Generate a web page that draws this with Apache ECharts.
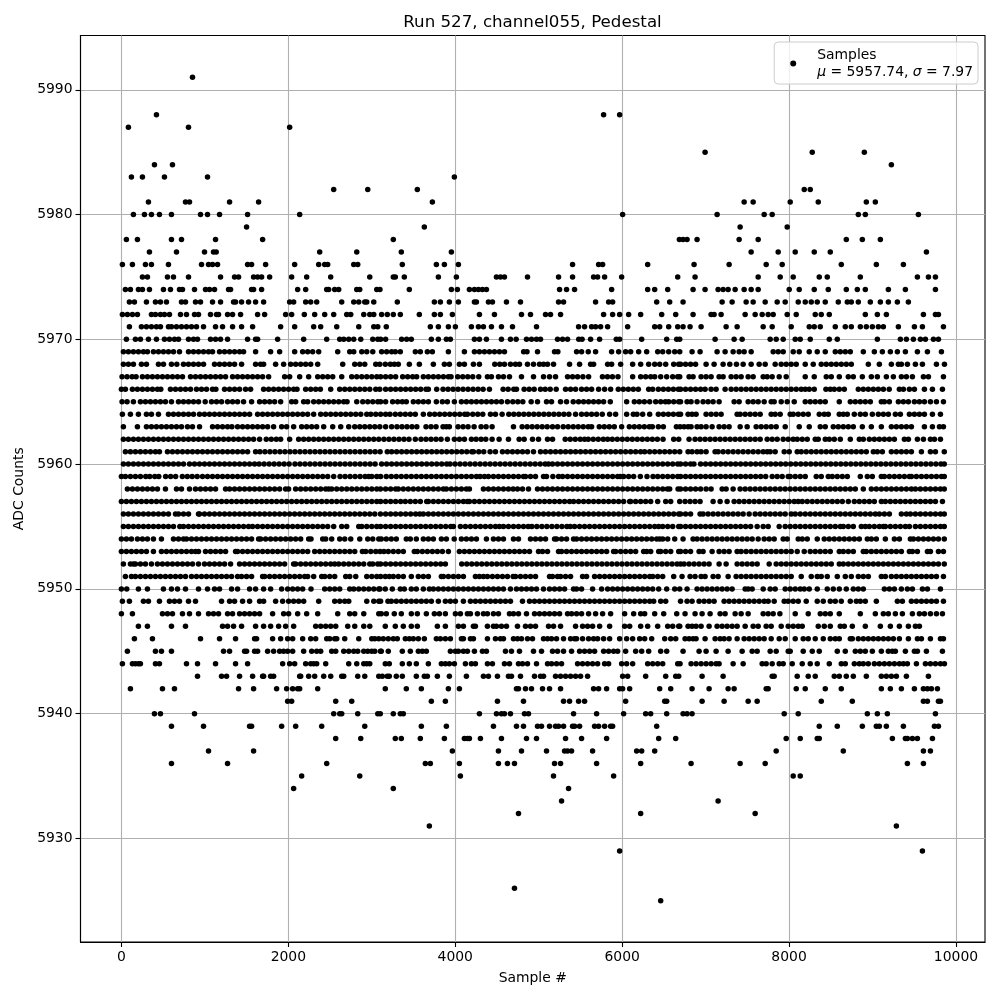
<!DOCTYPE html>
<html><head><meta charset="utf-8">
<style>html,body{margin:0;padding:0;background:#fff}#c{width:1000px;height:1000px}</style>
<script src="https://cdn.jsdelivr.net/npm/echarts@6/dist/echarts.min.js"></script>
</head><body><div id="c"></div>
<script>
const xTicks=[0,2000,4000,6000,8000,10000];
const yTicks=[5930,5940,5950,5960,5970,5980,5990];
const L5991=[852];
const L5988=[420,5778,5970];
const L5987=[84,804,2016];
const L5985=[6994,8278,8902];
const L5984=[396,612,9226];
const L5983=[120,252,516,1032,3990];
const L5982=[2544,2952,3546,8182,8254];
const L5981=[324,768,816,1296,1644,3726,7462,7570,8014,8350,8926,9034];
const L5980=[144,276,360,456,600,948,1032,1176,1512,2136,6006,7138,7702,7798,8830,8914,9550];
const L5979=[1500,3630,7414,7978];
const L5978=[60,192,600,720,1128,1692,3258,6686,6730,6778,6898,7402,7630,8686,8878,9094];
const L5977=[336,660,996,1104,1136,2376,2820,3354,3954,7546,7870,8074,8302,8494,9646];
const L5976=[12,132,288,360,564,960,1044,1092,1152,1512,1560,1728,2076,2364,2436,2472,2784,2832,3366,3774,3870,4038,5406,5718,5766,6306,6862,7282,7726,7918,8626,9046,9370];
const L5975=[252,312,552,624,804,1188,1356,1404,1584,1632,1680,1776,2040,2220,2508,2976,3258,3282,3390,3798,4014,4494,4542,4590,4866,5238,5406,5658,5706,5790,5994,6666,6874,7630,7894,8050,8362,8458,8854,9538,9670,9754];
const L5974=[48,108,204,252,336,504,588,696,732,876,1008,1056,1116,1284,1308,1560,1584,1680,2112,2208,2460,2484,2556,2604,2820,2856,3060,3098,3450,3954,4026,4170,4230,4278,4326,4374,5250,5334,5430,5874,6306,6390,6546,6850,6994,7150,7210,7270,7354,7462,7546,7630,8002,8122,8302,8470,8686,8818,8914,9190,9394,9754];
const L5973=[96,156,300,408,468,540,720,768,888,948,1092,1188,1344,1368,1440,1524,1608,1704,2016,2064,2208,2268,2340,2640,2784,2844,2916,2940,3024,3306,3750,3822,3930,4038,4230,4254,4398,4446,4614,4782,5238,5298,5682,5838,5886,6414,6570,6730,7198,7318,7486,7570,7714,7858,7954,8110,8194,8266,8338,8434,8590,8698,8746,8830,8974,9094,9190,9298,9430];
const L5972=[12,72,132,192,360,408,468,516,576,708,780,876,924,1068,1140,1164,1272,1332,1428,1632,1716,1968,2040,2192,2316,2436,2544,2700,2748,2904,2976,3024,3118,3186,3258,3342,3570,3750,3822,3966,4290,4470,4794,4902,5082,5142,5262,5778,5886,5970,6078,6222,6474,6642,6850,7066,7102,7186,7474,7594,7678,7750,7810,7978,8086,8314,8386,8482,8914,9058,9166,9610,9754,9790];
const L5971=[96,240,300,360,420,468,564,600,660,720,780,840,900,984,1128,1212,1332,1440,1572,1908,2076,2304,2388,2580,2844,3024,3072,3174,3702,3798,3918,4002,4194,4278,4338,4434,4554,4686,4974,5478,5550,5634,5682,5742,5826,6066,6390,6450,6558,6666,6730,6814,6946,7246,7378,7690,7798,8026,8242,8302,8374,8554,8674,8746,8854,8926,8998,9070,9130,9310,9502,9598,9850];
const L5970=[60,168,228,324,420,516,576,636,684,804,864,912,1068,1128,1188,1272,1512,1608,1632,1872,2184,2460,2616,2664,2724,2784,2868,3012,3072,3106,3166,3358,3418,3474,3714,3798,3894,3942,4230,4290,4374,4554,4662,4730,4854,4914,4974,5022,5226,5286,5346,5480,5520,5622,5730,5930,5970,6234,6534,6654,6690,7114,7342,7438,7774,7846,7930,8074,8134,8254,8482,8578,9058,9334,9406,9490,9574,9634,9730,9790];
const L5969=[24,84,144,204,264,312,384,444,504,564,624,696,804,864,924,984,1044,1092,1176,1236,1296,1356,1416,1464,1608,1788,1896,2076,2172,2232,2292,2364,2592,2736,2784,2880,2940,3012,3118,3178,3238,3282,3342,3522,3582,3666,3726,3918,4110,4230,4290,4350,4410,4470,4530,4590,4820,4860,4986,5190,5230,5454,5514,5594,5682,5874,5958,6042,6102,6198,6294,6426,6486,6558,6630,6690,6838,6934,7138,7234,7330,7402,7462,7546,7810,7870,7930,8050,8122,8242,8338,8434,8554,8614,8674,8734,8890,9022,9118,9214,9298,9394,9538,9658,9826];
const L5968=[24,84,144,240,300,444,504,600,664,744,804,864,924,984,1116,1176,1236,1296,1356,1440,1608,1668,1704,1848,1944,2028,2088,2148,2208,2268,2352,2652,2796,2856,2916,3048,3096,3162,3222,3270,3318,3450,3570,3738,3870,3930,4050,4110,4218,4290,4474,4534,4590,4662,4722,4770,4866,4938,5010,5058,5106,5178,5370,5490,5622,5658,5826,5874,5982,6126,6222,6318,6390,6450,6522,6618,6678,6700,6760,6820,6880,7006,7102,7210,7290,7370,7450,7546,7642,7714,7834,7906,7966,8026,8086,8194,8290,8386,8446,8506,8566,8626,8686,8746,8950,9082,9226,9310,9346,9418,9514,9598,9766,9862];
const L5967=[8,68,128,176,252,312,372,432,492,552,612,672,732,828,888,948,1008,1068,1128,1188,1248,1332,1392,1452,1512,1572,1632,1692,1764,1956,2016,2136,2244,2352,2412,2472,2532,2640,2760,2820,2880,2940,3000,3060,3106,3166,3226,3286,3370,3430,3490,3538,3618,3678,3738,3798,3858,3918,3950,4030,4090,4150,4210,4282,4386,4434,4518,4578,4650,4794,4938,5058,5130,5202,5346,5406,5466,5530,5598,5764,5824,5884,5950,6126,6222,6282,6342,6390,6462,6534,6606,6666,6690,6802,6850,6946,7006,7066,7162,7210,7306,7366,7426,7510,7570,7690,7738,7798,7882,7966,8194,8302,8446,8506,8602,8710,8770,8878,8986,9058,9166,9250,9346,9406,9478,9610,9670,9850];
const L5966=[0,48,132,192,252,312,372,432,472,588,648,708,768,828,900,960,1020,1092,1132,1236,1296,1356,1416,1488,1548,1704,1764,1824,1884,1944,2004,2064,2104,2208,2268,2328,2384,2508,2616,2676,2736,2796,2856,2916,2976,3048,3096,3166,3226,3286,3346,3406,3466,3526,3586,3650,3678,3778,3854,3914,3974,4034,4094,4154,4214,4274,4334,4410,4574,4634,4702,4734,4826,4886,4946,5022,5078,5138,5210,5322,5382,5442,5514,5574,5634,5718,5790,5862,5954,6014,6074,6134,6194,6318,6366,6434,6494,6554,6614,6674,6700,6760,6820,6880,6940,6994,7066,7126,7234,7306,7366,7426,7486,7546,7606,7666,7726,7786,7846,7906,7966,8026,8086,8146,8194,8242,8302,8442,8494,8542,8602,8662,8830,8890,8950,9010,9070,9130,9200,9322,9370,9442,9502,9622,9718,9838];
const L5965=[8,68,144,228,288,348,408,468,528,600,684,744,804,864,924,1004,1080,1140,1200,1272,1332,1392,1464,1560,1656,1716,1776,1836,1908,2040,2088,2184,2232,2304,2364,2424,2484,2544,2604,2664,2704,2820,2892,2952,3012,3072,3106,3166,3250,3310,3366,3414,3498,3558,3618,3678,3774,3846,3906,3990,4074,4134,4194,4254,4314,4374,4434,4494,4554,4626,4690,4750,4810,4910,4986,5094,5154,5262,5334,5414,5478,5538,5598,5658,5718,5778,5858,6054,6146,6206,6266,6330,6402,6462,6518,6558,6618,6678,6700,6778,6826,6898,6970,7030,7090,7162,7342,7402,7510,7570,7630,7702,7786,7822,7906,7978,8062,8194,8254,8314,8374,8434,8602,8734,8794,8854,8914,8974,9106,9142,9202,9310,9370,9430,9502,9562,9622,9694,9766,9850];
const L5964=[12,108,204,300,360,444,564,624,684,744,804,864,936,996,1056,1116,1176,1236,1296,1356,1416,1476,1536,1632,1692,1752,1812,1872,1932,1992,2052,2112,2172,2232,2304,2388,2448,2508,2568,2628,2688,2748,2808,2868,2940,2988,3048,3106,3166,3218,3282,3342,3402,3462,3522,3618,3694,3754,3814,3874,3934,3994,4054,4114,4146,4210,4270,4330,4422,4482,4562,4642,4702,4762,4822,4882,4942,5002,5062,5122,5182,5242,5302,5362,5442,5514,5574,5634,5694,5762,5850,5922,6054,6134,6178,6246,6330,6434,6494,6554,6614,6674,6700,6790,6838,6886,7006,7066,7126,7186,7378,7414,7474,7534,7594,7654,7786,7834,7894,8014,8050,8110,8170,8230,8362,8422,8470,8602,8650,8698,8782,8854,8914,8998,9070,9130,9190,9274,9334,9442,9502,9562,9622,9718,9814];
const L5963=[24,192,300,360,420,480,540,600,660,720,792,852,936,1092,1152,1212,1272,1324,1392,1452,1512,1572,1632,1692,1752,1824,1920,1980,2064,2160,2220,2280,2340,2424,2532,2628,2724,2796,2856,2916,2976,3036,3096,3166,3238,3302,3362,3422,3482,3540,3650,3710,3770,3854,3894,3930,4034,4094,4154,4226,4310,4370,4442,4698,4802,4862,4922,4982,5042,5102,5166,5226,5294,5354,5414,5474,5534,5594,5634,5726,5786,5846,5906,5994,6086,6146,6206,6266,6326,6362,6434,6494,6650,6694,6742,6790,6826,6898,6946,7006,7078,7162,7222,7282,7414,7498,7606,7666,7726,7786,7846,7954,8122,8242,8374,8434,8530,8590,8650,8710,8770,8878,8986,9106,9226,9286,9346,9406,9466,9622,9718,9802,9850];
const L5962=[24,84,144,204,264,324,384,444,504,564,624,684,744,804,864,924,984,1044,1104,1164,1224,1284,1344,1404,1464,1524,1584,1656,1736,1796,1856,1908,2016,2124,2184,2244,2304,2364,2424,2484,2544,2604,2664,2724,2784,2844,2904,2964,3024,3084,3146,3206,3266,3326,3386,3446,3522,3590,3650,3710,3770,3830,3906,3990,4050,4110,4194,4250,4310,4366,4442,4526,4638,4766,4826,4926,4998,5106,5166,5318,5378,5438,5498,5550,5594,5654,5714,5774,5826,5882,5942,6002,6062,6122,6182,6242,6302,6362,6422,6490,6618,6678,6802,6874,6934,6994,7054,7114,7174,7234,7294,7354,7414,7474,7534,7594,7654,7738,7798,7858,7930,7990,8050,8098,8158,8218,8314,8350,8434,8482,8542,8614,8734,8842,8890,8962,9022,9082,9142,9202,9262,9382,9430,9538,9610,9694,9742,9814];
const L5961=[48,108,168,228,288,348,408,456,552,612,672,732,792,852,912,972,1032,1092,1152,1212,1272,1332,1392,1452,1512,1608,1660,1720,1780,1840,1900,1960,2020,2080,2140,2200,2260,2320,2380,2440,2500,2560,2620,2680,2740,2800,2860,2920,2980,3040,3100,3186,3238,3298,3358,3418,3478,3538,3598,3658,3718,3778,3838,3898,3958,4018,4078,4138,4198,4218,4282,4342,4418,4482,4566,4626,4686,4746,4806,4866,4938,5022,5082,5142,5202,5262,5322,5382,5442,5502,5562,5622,5682,5742,5802,5862,5922,5982,6042,6102,6162,6222,6270,6330,6390,6450,6510,6570,6630,6690,6790,6838,6898,6946,7006,7114,7150,7210,7270,7330,7390,7450,7510,7570,7630,7690,7738,7774,7834,7942,8002,8098,8146,8206,8266,8326,8386,8446,8506,8566,8626,8686,8746,8806,8866,8926,9010,9058,9118,9226,9286,9346,9406,9466,9586,9694,9754,9860];
const L5960=[24,84,144,204,264,324,384,444,504,564,624,684,744,816,876,936,996,1056,1116,1176,1236,1296,1356,1416,1476,1536,1596,1650,1710,1770,1830,1890,1950,2010,2080,2140,2200,2260,2320,2380,2440,2500,2560,2620,2680,2740,2800,2860,2920,2980,3040,3118,3178,3238,3298,3358,3418,3478,3538,3598,3658,3718,3778,3838,3898,3938,3998,4058,4118,4178,4238,4298,4358,4418,4478,4538,4598,4658,4718,4778,4838,4898,4958,5018,5078,5118,5166,5226,5286,5346,5406,5466,5526,5586,5646,5706,5766,5826,5886,5946,6006,6066,6126,6186,6246,6306,6366,6426,6486,6546,6606,6666,6700,6760,6820,6860,6940,7000,7060,7120,7180,7240,7300,7360,7420,7480,7540,7600,7660,7720,7780,7840,7900,7960,8020,8080,8140,8200,8260,8320,8380,8440,8500,8560,8620,8680,8740,8800,8860,8920,8980,9040,9100,9160,9220,9280,9340,9400,9460,9520,9580,9640,9700,9760,9820,9860];
const L5959=[0,48,108,168,228,292,340,400,448,530,590,650,730,790,848,908,972,1032,1092,1152,1212,1272,1332,1392,1452,1512,1572,1632,1692,1752,1812,1872,1932,1992,2052,2112,2172,2232,2292,2352,2412,2472,2544,2620,2680,2740,2800,2860,2920,2964,3000,3060,3106,3174,3234,3294,3354,3414,3474,3534,3594,3654,3714,3774,3834,3894,3954,4014,4074,4134,4194,4254,4298,4350,4398,4458,4518,4578,4638,4698,4758,4818,4842,4902,4962,5058,5094,5170,5238,5286,5346,5406,5466,5526,5586,5646,5706,5766,5826,5886,5946,5978,6018,6078,6138,6218,6298,6370,6426,6486,6546,6606,6666,6700,6760,6820,6880,6940,7000,7060,7120,7180,7240,7300,7360,7420,7480,7540,7600,7660,7720,7798,7858,7918,7990,8014,8074,8134,8194,8326,8386,8470,8518,8578,8638,8698,8854,8938,8998,9106,9142,9202,9262,9322,9382,9442,9466,9526,9586,9646,9706,9766,9826,9860];
const L5958=[72,132,192,252,312,372,432,528,660,720,816,888,948,1008,1068,1128,1248,1296,1356,1416,1476,1536,1596,1656,1716,1776,1836,1896,1968,2004,2088,2148,2208,2268,2328,2388,2448,2484,2520,2580,2640,2700,2760,2820,2880,2940,3000,3060,3104,3166,3226,3286,3318,3378,3438,3498,3558,3618,3678,3738,3798,3858,3894,3954,4014,4074,4134,4170,4338,4398,4458,4518,4578,4638,4694,4746,4806,4878,4986,5046,5106,5166,5226,5286,5346,5406,5466,5526,5586,5646,5706,5766,5826,5886,5946,6006,6066,6126,6186,6246,6306,6366,6426,6486,6542,6570,6670,6700,6760,6820,6880,6940,7006,7066,7198,7246,7330,7414,7474,7534,7594,7654,7714,7774,7834,7894,7954,8014,8074,8134,8194,8254,8314,8374,8434,8494,8554,8614,8674,8734,8794,8890,8986,9046,9106,9166,9226,9286,9346,9406,9466,9514,9574,9634,9694,9754,9814,9860];
const L5957=[0,60,120,180,240,300,360,420,480,540,600,660,720,780,840,900,960,1020,1080,1140,1200,1260,1320,1380,1440,1500,1560,1620,1680,1740,1800,1860,1920,1980,2040,2100,2160,2220,2280,2340,2400,2460,2520,2580,2640,2700,2760,2820,2880,2940,3000,3060,3106,3166,3226,3286,3346,3402,3462,3522,3582,3658,3678,3738,3798,3858,3918,3978,4038,4098,4146,4170,4230,4290,4350,4410,4470,4530,4590,4650,4710,4770,4830,4890,4950,5010,5070,5130,5190,5250,5310,5370,5418,5478,5538,5598,5658,5718,5778,5838,5898,5958,6018,6090,6102,6162,6222,6282,6342,6426,6522,6582,6690,6754,6814,6874,6934,7090,7174,7258,7342,7402,7462,7522,7582,7642,7702,7762,7822,7882,7942,8002,8062,8110,8158,8218,8278,8338,8398,8458,8518,8578,8638,8710,8782,8842,8902,8962,9022,9106,9154,9214,9274,9334,9394,9454,9514,9574,9634,9694,9754,9838];
const L5956=[24,84,144,204,264,324,384,444,504,564,648,684,744,804,924,936,996,1056,1116,1176,1236,1296,1356,1416,1476,1536,1596,1656,1716,1776,1836,1896,1956,2016,2076,2136,2196,2256,2316,2376,2436,2496,2556,2616,2676,2736,2796,2856,2916,2976,3036,3104,3166,3226,3286,3346,3406,3466,3526,3576,3618,3678,3738,3798,3858,3918,3978,4038,4098,4158,4218,4278,4338,4398,4458,4518,4578,4638,4698,4758,4818,4878,4938,4998,5058,5118,5178,5238,5298,5358,5418,5478,5538,5598,5658,5718,5778,5838,5898,5958,6018,6078,6138,6198,6258,6318,6378,6438,6498,6558,6618,6678,6700,6760,6820,6934,6970,7030,7090,7150,7210,7270,7330,7390,7450,7522,7594,7654,7714,7774,7834,7894,7954,8026,8074,8134,8194,8254,8314,8374,8434,8494,8554,8614,8674,8734,8794,8854,8914,8974,9034,9082,9142,9202,9346,9406,9454,9514,9574,9634,9694,9754,9814,9860];
const L5955=[24,84,144,204,264,324,384,444,504,564,624,700,744,804,864,924,984,1044,1104,1164,1224,1284,1344,1404,1464,1524,1572,1632,1692,1752,1812,1872,1932,1992,2052,2112,2172,2232,2292,2352,2412,2472,2544,2640,2700,2844,2880,2940,3000,3060,3106,3166,3226,3286,3346,3406,3466,3526,3586,3646,3706,3766,3826,3886,3946,3978,4062,4122,4182,4242,4302,4362,4422,4482,4530,4578,4638,4698,4758,4818,4874,4918,4978,5038,5098,5158,5218,5278,5338,5378,5430,5490,5550,5610,5670,5730,5790,5850,5910,5970,6030,6090,6150,6210,6270,6330,6390,6438,6486,6546,6606,6678,6700,6760,6820,6880,6940,7000,7060,7120,7180,7240,7300,7360,7420,7480,7540,7618,7690,7750,7882,7954,8014,8074,8134,8194,8254,8314,8374,8434,8494,8554,8614,8650,8710,8770,8866,8914,8962,9022,9082,9130,9154,9214,9274,9334,9394,9442,9514,9574,9634,9694,9754,9814,9860];
const L5954=[0,60,120,192,252,312,384,480,624,684,744,780,840,900,960,1020,1080,1140,1200,1260,1320,1380,1440,1500,1560,1644,1668,1728,1788,1848,1908,1968,2028,2088,2148,2244,2272,2412,2448,2520,2616,2676,2748,2856,2952,3012,3084,3114,3174,3234,3294,3414,3462,3534,3618,3678,3738,3834,3894,3988,4074,4134,4194,4254,4374,4458,4518,4578,4698,4758,4902,4962,5022,5082,5190,5214,5274,5334,5418,5454,5514,5574,5634,5694,5754,5814,5874,5934,5994,6054,6114,6174,6234,6294,6354,6414,6450,6486,6546,6630,6730,6850,6898,6958,7018,7078,7138,7198,7258,7318,7378,7438,7498,7558,7630,7702,7762,7822,7930,7978,8110,8158,8218,8338,8422,8482,8542,8602,8662,8722,8782,8842,8938,8986,9046,9154,9262,9322,9454,9490,9550,9610,9670,9730,9790,9860];
const L5953=[0,60,120,180,240,300,384,480,540,600,660,720,780,840,888,924,1008,1068,1128,1188,1248,1368,1392,1452,1512,1572,1632,1692,1752,1812,1872,1932,1992,2052,2112,2172,2232,2316,2376,2436,2496,2556,2616,2676,2736,2796,2888,2928,2988,3048,3100,3146,3198,3258,3318,3378,3510,3546,3606,3666,3726,3786,3846,3918,4050,4110,4170,4230,4290,4350,4410,4470,4530,4590,4650,4710,4770,4830,4890,4998,5046,5106,5238,5274,5334,5394,5454,5514,5574,5634,5694,5754,5814,5898,5922,5982,6042,6102,6162,6258,6294,6342,6438,6462,6522,6582,6678,6700,6760,6820,6922,6970,7078,7162,7222,7282,7378,7426,7486,7546,7606,7666,7726,7786,7846,7906,7966,8026,8098,8182,8254,8314,8374,8434,8494,8602,8650,8710,8770,8890,8926,8986,9046,9106,9166,9226,9286,9346,9442,9478,9538,9658,9694,9790,9850];
const L5952=[24,108,144,168,228,288,360,432,492,552,612,672,732,792,852,924,996,1056,1116,1176,1236,1308,1416,1476,1536,1596,1656,1716,1776,1836,1896,1956,2064,2088,2148,2208,2268,2328,2388,2448,2508,2556,2604,2664,2724,2784,2844,2904,2976,3012,3072,3106,3166,3226,3286,3346,3406,3466,3526,3586,3646,3706,3766,3826,3882,4078,4138,4198,4258,4318,4378,4438,4498,4558,4618,4678,4738,4798,4858,4918,4978,5038,5098,5158,5218,5278,5338,5398,5458,5518,5578,5638,5698,5758,5818,5878,5938,5998,6058,6118,6178,6238,6298,6358,6418,6478,6538,6598,6658,6700,6742,6802,6862,6922,6982,7042,7162,7246,7378,7438,7498,7558,7618,7762,7846,7906,7966,8026,8086,8146,8206,8266,8326,8386,8446,8506,8602,8650,8710,8770,8830,8890,8950,9010,9070,9130,9190,9250,9310,9370,9430,9490,9550,9610,9670,9730,9790,9860];
const L5951=[48,120,168,228,288,348,408,468,528,588,648,708,768,840,900,960,1020,1080,1140,1200,1260,1320,1392,1440,1500,1560,1692,1716,1776,1836,1896,1956,2016,2076,2136,2196,2232,2304,2400,2436,2496,2556,2688,2736,2808,2940,3000,3060,3106,3162,3210,3258,3318,3378,3474,3558,3618,3678,3834,3858,3918,3978,4038,4098,4242,4290,4338,4386,4446,4506,4566,4626,4694,4722,4782,4842,4902,4962,5130,5166,5226,5262,5322,5382,5526,5574,5670,5730,5790,5850,5910,5970,6030,6090,6150,6210,6270,6330,6366,6426,6486,6618,6718,6814,6874,6946,6994,7090,7150,7270,7366,7426,7486,7546,7606,7666,7726,7786,7846,7906,7966,8026,8146,8266,8338,8386,8458,8578,8674,8746,8830,8890,8950,9106,9154,9226,9286,9346,9406,9466,9526,9586,9646,9706,9766,9850];
const L5950=[0,64,204,312,504,600,672,768,924,1032,1116,1176,1320,1392,1536,1608,1704,1788,1920,1992,2052,2112,2172,2272,2436,2496,2556,2616,2736,2784,2844,2904,2964,3024,3084,3098,3162,3246,3342,3390,3474,3534,3618,3690,3738,3798,3858,3918,3978,4038,4098,4158,4218,4278,4338,4398,4458,4518,4578,4662,4734,4794,4854,4914,4974,5058,5130,5190,5250,5310,5418,5454,5514,5646,5754,5826,5886,5946,6006,6066,6126,6186,6246,6306,6366,6438,6534,6630,6690,6778,6898,6958,7018,7078,7138,7198,7258,7318,7474,7510,7558,7690,7774,7834,7954,8014,8074,8134,8182,8242,8338,8458,8530,8602,8686,8770,8830,8890,9142,9202,9262,9346,9418,9478,9598,9658,9814];
const L5949=[12,96,264,324,456,576,636,696,804,888,1200,1296,1356,1452,1536,1656,1704,1848,1932,2004,2064,2124,2184,2364,2556,2616,2676,2724,2940,3024,3084,3106,3194,3234,3294,3354,3414,3474,3534,3594,3654,3714,3798,3882,3942,4002,4098,4182,4242,4302,4362,4422,4482,4542,4602,4662,4806,4890,4950,5010,5070,5130,5190,5250,5310,5370,5430,5490,5550,5610,5670,5730,5790,5850,5910,5970,6030,6090,6150,6210,6270,6330,6378,6462,6522,6700,6778,6838,6922,6982,7042,7102,7222,7282,7342,7402,7462,7522,7582,7642,7702,7750,7822,7942,7990,8050,8110,8206,8338,8410,8494,8554,8626,8734,8806,8854,8914,9046,9298,9358,9466,9526,9586,9646,9706,9766,9850];
const L5948=[0,132,492,552,612,732,816,924,1044,1104,1164,1272,1332,1416,1476,1536,1596,1656,1812,1944,2004,2112,2220,2352,2592,2736,2796,2904,3084,3114,3174,3270,3354,3474,3546,3654,3750,3810,3882,4002,4062,4146,4182,4266,4338,4386,4458,4518,4650,4698,4758,4854,4950,5010,5070,5130,5190,5250,5346,5394,5454,5514,5598,5682,5766,5862,6030,6138,6222,6270,6390,6498,6654,6754,6874,6958,7054,7174,7234,7354,7426,7510,7690,7750,7810,7890,8074,8230,8374,8434,8494,8602,8854,9034,9130,9190,9274,9358,9478,9562,9622,9694,9766,9838];
const L5947=[204,312,600,768,1212,1272,1344,1440,1608,1704,1788,1884,1968,2064,2328,2388,2448,2508,2568,2712,2796,2904,2976,3162,3282,3378,3474,3546,3786,3882,4038,4098,4218,4242,4386,4458,4494,4554,4614,4746,4842,4902,4962,5118,5178,5262,5442,5526,5586,5646,5730,5850,6030,6090,6222,6306,6426,6546,6606,6678,6690,6790,6838,6886,6946,7042,7138,7198,7258,7318,7378,7474,7570,7630,7726,7786,7906,7990,8050,8110,8158,8350,8422,8494,8614,8662,8758,8914,9094,9214,9322,9430,9514,9562];
const L5946=[156,372,948,1176,1368,1596,1620,1812,1908,1992,2052,2172,2268,2328,2460,2496,2556,2580,2676,2844,3000,3036,3084,3138,3198,3258,3306,3402,3450,3498,3558,3630,3774,3822,3882,3942,4074,4098,4182,4218,4386,4482,4542,4578,4698,4746,4794,4866,4926,5058,5106,5154,5214,5298,5382,5430,5454,5526,5598,5658,5706,5778,5850,5970,6054,6126,6210,6270,6354,6510,6582,6642,6754,6802,6850,6886,6994,7114,7174,7222,7282,7378,7462,7522,7582,7642,7702,7786,7882,7954,8074,8170,8230,8314,8410,8494,8554,8602,8734,8758,8830,8890,8950,9010,9070,9130,9190,9250,9322,9430,9538,9586,9694,9814,9850];
const L5945=[72,408,480,600,1224,1296,1476,1500,1596,1632,1752,1824,1896,1944,1992,2052,2184,2280,2340,2388,2520,2568,2664,2724,2784,2832,2904,2952,3000,3036,3104,3114,3198,3366,3462,3558,3606,3654,3942,4002,4038,4098,4146,4230,4326,4374,4602,4674,4770,4938,5034,5166,5226,5298,5394,5490,5550,5610,5670,5778,5838,5898,5946,6042,6162,6234,6318,6462,6534,6730,6922,7006,7126,7270,7438,7558,7618,7774,7846,7990,8014,8170,8278,8362,8578,8674,8794,8854,8914,8998,9106,9190,9238,9274,9394,9502,9538,9646,9838];
const L5944=[12,132,168,204,228,408,456,780,912,1128,1368,1512,1932,2016,2076,2208,2268,2304,2340,2448,2724,2820,2904,2940,2976,3162,3210,3366,3450,3534,3678,3834,3882,3930,3990,4122,4194,4242,4386,4446,4590,4650,4758,4806,4866,4974,5106,5154,5214,5274,5466,5526,5586,5646,5706,5790,5838,5994,6054,6126,6306,6366,6426,6486,6666,6694,6826,6886,6946,7006,7066,7126,7162,7330,7450,7678,7726,7798,7882,7930,8038,8158,8254,8338,8482,8626,8674,8782,8842,8890,8950,9022,9082,9142,9202,9262,9322,9370,9418,9526,9634,9694,9754,9814,9862];
const L5943=[912,1200,1260,1416,1572,1692,1704,1788,1824,2136,2148,2244,2316,2424,2508,2640,2664,2832,2916,3084,3126,3186,3210,3294,3366,3534,3630,3666,3786,3930,4134,4338,4398,4506,4638,4674,4782,4950,5022,5058,5202,5262,5322,5382,5442,5502,5586,6006,6066,6282,6522,6642,6678,6958,7210,7798,7822,8098,8230,8314,8542,8602,8686,8770,8926,9106,9166,9226,9286,9406,9670];
const L5942=[108,492,636,1404,1584,1860,1980,2052,2112,2136,2352,3162,3414,3594,3918,4050,4734,4758,4842,4914,5046,5130,5262,5658,5718,5814,5970,6006,6090,6450,6582,6838,7042,7270,7342,7726,7750,8086,8194,8434,8626,9106,9214,9346,9502,9610,9658,9706,9778];
const L5941=[1992,2040,2568,2760,3714,3882,4506,4818,5298,5370,5478,5550,6042,6510,6534,6958,7222,7510,7618,8386,8758,9610,9658,9790,9814];
const L5940=[396,468,876,2544,2616,2640,2832,3072,3102,3258,3342,3378,4290,4494,4554,4590,4662,4830,4878,5418,5694,6018,6282,6342,6534,6730,6778,6838,7942,8110,8938,9058,9178,9754];
const L5939=[600,984,1536,1560,1920,2088,2400,2916,3594,3894,4458,4734,4818,4986,5034,5130,5202,5238,5298,5406,5430,5490,5670,5718,5790,5862,5886,6414,8362,8578,8878,9046,9082,9166,9370,9742,9790];
const L5938=[2568,2868,3282,3354,3582,3870,4110,4146,4170,4302,4554,4854,4974,5322,5514,5814,6438,6642,7966,8134,8338,8362,9238,9394,9418,9478,9538,9718];
const L5937=[1044,1584,3966,4518,4794,5094,5310,5346,5394,5646,6174,6234,6390,7846,8650,9610,9694];
const L5936=[600,1272,2460,3642,3702,4050,4518,4626,4710,5190,5262,5694,6222,6826,7414,7714,9418,9610];
const L5935=[2160,2856,4062,5178,5898,8050,8134];
const L5934=[2064,3258,5358];
const L5933=[5274,7150];
const L5932=[4758,6222,7594];
const L5931=[3690,9286];
const L5929=[5970,9598];
const L5926=[4710];
const L5925=[6462];
const rows=[[5991,L5991],[5988,L5988],[5987,L5987],[5985,L5985],[5984,L5984],[5983,L5983],[5982,L5982],[5981,L5981],[5980,L5980],[5979,L5979],[5978,L5978],[5977,L5977],[5976,L5976],[5975,L5975],[5974,L5974],[5973,L5973],[5972,L5972],[5971,L5971],[5970,L5970],[5969,L5969],[5968,L5968],[5967,L5967],[5966,L5966],[5965,L5965],[5964,L5964],[5963,L5963],[5962,L5962],[5961,L5961],[5960,L5960],[5959,L5959],[5958,L5958],[5957,L5957],[5956,L5956],[5955,L5955],[5954,L5954],[5953,L5953],[5952,L5952],[5951,L5951],[5950,L5950],[5949,L5949],[5948,L5948],[5947,L5947],[5946,L5946],[5945,L5945],[5944,L5944],[5943,L5943],[5942,L5942],[5941,L5941],[5940,L5940],[5939,L5939],[5938,L5938],[5937,L5937],[5936,L5936],[5935,L5935],[5934,L5934],[5933,L5933],[5932,L5932],[5931,L5931],[5929,L5929],[5926,L5926],[5925,L5925]];
const points=[];
rows.forEach(r=>r[1].forEach(x=>points.push([x,r[0]])));
const font='"DejaVu Sans"';
const chart=echarts.init(document.getElementById('c'),null,{renderer:'canvas'});
function ax(min,max,ticks,name,gap){return {
  type:'value',min,max,name,nameLocation:'middle',nameGap:gap,
  nameTextStyle:{fontFamily:font,fontSize:13.9,color:'#000'},
  axisLine:{show:true,onZero:false,lineStyle:{color:'#000',width:1.1}},
  axisTick:{show:true,length:5,inside:false,lineStyle:{color:'#000',width:1.1},customValues:ticks},
  axisLabel:{show:true,fontFamily:font,fontSize:13.9,color:'#000',margin:8,customValues:ticks,formatter:v=>String(v),showMinLabel:true,showMaxLabel:true,hideOverlap:false},
  splitLine:{show:true,lineStyle:{color:'#b0b0b0',width:1.1}},
  scale:true
};}
chart.setOption({
  animation:false,backgroundColor:'#fff',
  title:{text:'Run 527, channel055, Pedestal',left:527.5,textAlign:'center',top:9,textStyle:{fontFamily:font,fontSize:16.67,fontWeight:'normal',color:'#000'}},
  grid:{left:80.5,top:35.5,width:904.5,height:906.5,show:true,borderColor:'#000',borderWidth:1.1,backgroundColor:'transparent'},
  xAxis:ax(-490,10348,xTicks,'Sample #',29),
  yAxis:ax(5921.7,5994.35,yTicks,'ADC Counts',50),
  legend:{show:true,right:22,top:42,orient:'horizontal',itemWidth:10,itemHeight:6,itemGap:0,padding:[6,5,5,16],backgroundColor:'rgba(255,255,255,0.8)',borderColor:'#cccccc',borderWidth:1,borderRadius:4,
    data:[{name:'Samples',icon:'circle'}],
    formatter:()=>'{a|Samples}\n{i|μ}{a| = 5957.74, }{i|σ}{a| = 7.97}',
    textStyle:{fontFamily:font,fontSize:13.9,color:'#000',padding:[0,0,0,14],rich:{a:{fontFamily:font,fontSize:13.9,color:'#000',lineHeight:17},i:{fontFamily:font,fontSize:13.9,fontStyle:'italic',color:'#000',lineHeight:17}}}},
  series:[{name:'Samples',type:'scatter',data:points,symbol:'circle',symbolSize:5.5,silent:true,large:false,progressive:0,itemStyle:{color:'#000',opacity:1},clip:true}]
});
</script></body></html>
